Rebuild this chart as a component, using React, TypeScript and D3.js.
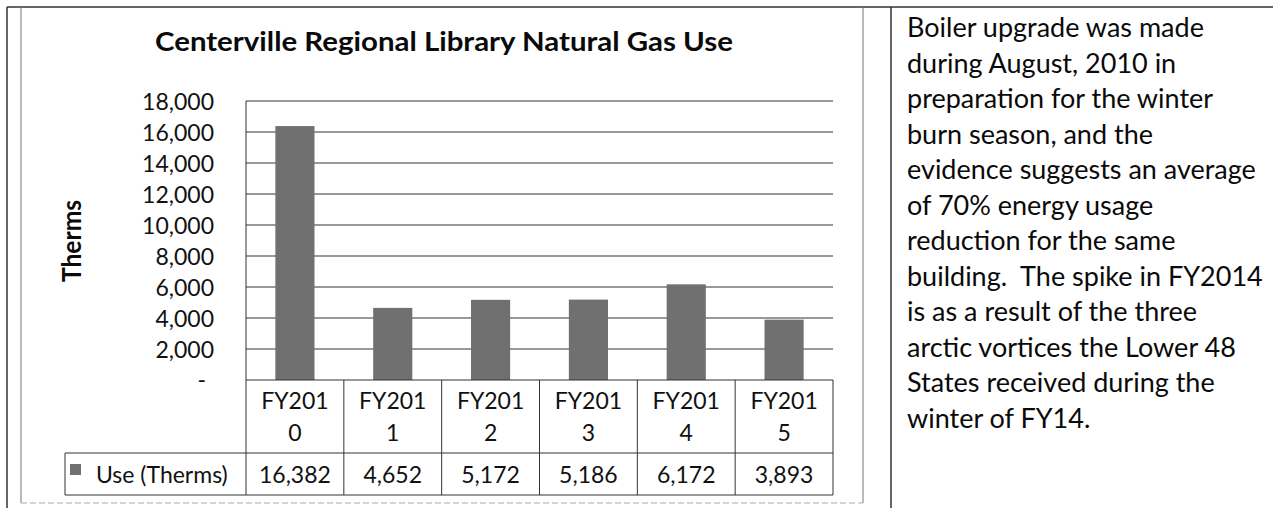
import React from "react";
import * as d3 from "d3";

const categories = ["FY2010", "FY2011", "FY2012", "FY2013", "FY2014", "FY2015"];
const useTherms = [16382, 4652, 5172, 5186, 6172, 3893];
const yTicks = [0, 2000, 4000, 6000, 8000, 10000, 12000, 14000, 16000, 18000];
const seriesName = "Use (Therms)";
const chartTitle = "Centerville Regional Library Natural Gas Use";
const yAxisTitle = "Therms";
const noteLines = [
  "Boiler upgrade was made",
  "during August, 2010 in",
  "preparation for the winter",
  "burn season, and the",
  "evidence suggests an average",
  "of 70% energy usage",
  "reduction for the same",
  "building.  The spike in FY2014",
  "is as a result of the three",
  "arctic vortices the Lower 48",
  "States received during the",
  "winter of FY14.",
];

const W = 1273;
const H = 508;
const FONT = "Lato, 'Open Sans', sans-serif";
const INK = "#111";
const BAR = "#707070";

export default function App() {
  const plotLeft = 246;
  const plotRight = 833;
  const plotTop = 101;
  const plotBottom = 380;
  const catRowBottom = 453;
  const valRowBottom = 495;
  const legendLeft = 65;

  const x = d3.scaleBand<string>().domain(categories).range([plotLeft, plotRight]).padding(0);
  const y = d3.scaleLinear().domain([0, 18000]).range([plotBottom, plotTop]);
  const step = x.step();
  const barW = step * 0.4;
  const fmt = d3.format(",");

  const boundaries = [...categories.map((c) => x(c) as number), plotRight];

  return (
    <svg
      width={W}
      height={H}
      viewBox={`0 0 ${W} ${H}`}
      style={{ position: "absolute", left: 0, top: 0, display: "block", background: "#fff" }}
      fontFamily={FONT}
    >
      <rect x={0} y={0} width={W} height={H} fill="#fff" />
      {/* outer table frame */}
      <line x1={7} x2={W} y1={7} y2={7} stroke="#333" strokeWidth={1.5} />
      <line x1={7} x2={7} y1={7} y2={H} stroke="#333" strokeWidth={1.5} />
      <line x1={891} x2={891} y1={7} y2={H} stroke="#333" strokeWidth={1.5} />
      {/* chart object border */}
      <line x1={21} x2={21} y1={7} y2={503} stroke="#777" strokeWidth={1} />
      <line x1={863} x2={863} y1={7} y2={503} stroke="#777" strokeWidth={1} />
      <line x1={21} x2={863} y1={503} y2={503} stroke="#aaa" strokeWidth={1} strokeDasharray="6 3" />

      {/* title */}
      <text
        x={444}
        y={51}
        textAnchor="middle"
        fontWeight="bold"
        fontSize={26}
        fill="#0a0a0a"
        textLength={578}
        lengthAdjust="spacingAndGlyphs"
      >
        {chartTitle}
      </text>

      {/* y axis title */}
      <text
        transform={`translate(81,241) rotate(-90)`}
        textAnchor="middle"
        fontWeight="bold"
        fontSize={27}
        fill="#0a0a0a"
        textLength={82}
        lengthAdjust="spacingAndGlyphs"
      >
        {yAxisTitle}
      </text>

      {/* gridlines */}
      {yTicks.filter((t) => t > 0).map((t) => (
        <line key={t} x1={plotLeft} x2={plotRight} y1={y(t)} y2={y(t)} stroke="#333" strokeWidth={1} />
      ))}
      {/* tick labels */}
      {yTicks.map((t) =>
        t === 0 ? (
          <text key={t} x={206} y={y(t) + 8} textAnchor="end" fontSize={23} fill={INK}>
            -
          </text>
        ) : (
          <text key={t} x={214} y={y(t) + 9} textAnchor="end" fontSize={23} fill={INK}>
            {fmt(t)}
          </text>
        )
      )}

      {/* bars */}
      {categories.map((c, i) => (
        <rect
          key={c}
          x={(x(c) as number) + (step - barW) / 2}
          y={y(useTherms[i])}
          width={barW}
          height={y(0) - y(useTherms[i])}
          fill={BAR}
        />
      ))}

      {/* left axis line */}
      <line x1={plotLeft} x2={plotLeft} y1={plotTop} y2={valRowBottom} stroke="#333" strokeWidth={1} />

      {/* data table */}
      <line x1={plotLeft} x2={plotRight} y1={plotBottom} y2={plotBottom} stroke="#333" strokeWidth={1} />
      <line x1={legendLeft} x2={plotRight} y1={catRowBottom} y2={catRowBottom} stroke="#333" strokeWidth={1} />
      <line x1={legendLeft} x2={plotRight} y1={valRowBottom} y2={valRowBottom} stroke="#333" strokeWidth={1} />
      <line x1={legendLeft} x2={legendLeft} y1={catRowBottom} y2={valRowBottom} stroke="#333" strokeWidth={1} />
      {boundaries.slice(1).map((bx, i) => (
        <line key={i} x1={bx} x2={bx} y1={plotBottom} y2={valRowBottom} stroke="#333" strokeWidth={1} />
      ))}
      {categories.map((c, i) => {
        const cx = (x(c) as number) + step / 2;
        return (
          <g key={c}>
            <text x={cx} y={409} textAnchor="middle" fontSize={23} fill={INK}>
              {c.slice(0, 5)}
            </text>
            <text x={cx} y={441} textAnchor="middle" fontSize={23} fill={INK}>
              {c.slice(5)}
            </text>
            <text x={cx} y={483} textAnchor="middle" fontSize={23} fill={INK}>
              {fmt(useTherms[i])}
            </text>
          </g>
        );
      })}
      {/* legend key */}
      <rect x={70} y={464} width={11} height={11} fill={BAR} />
      <text x={96} y={483} fontSize={23} fill={INK}>
        {seriesName}
      </text>

      {/* note text */}
      {noteLines.map((l, i) => (
        <text key={i} x={907} y={37 + i * 35.5} fontSize={27} fill="#0a0a0a" style={{ whiteSpace: "pre" }}>
          {l}
        </text>
      ))}
    </svg>
  );
}
